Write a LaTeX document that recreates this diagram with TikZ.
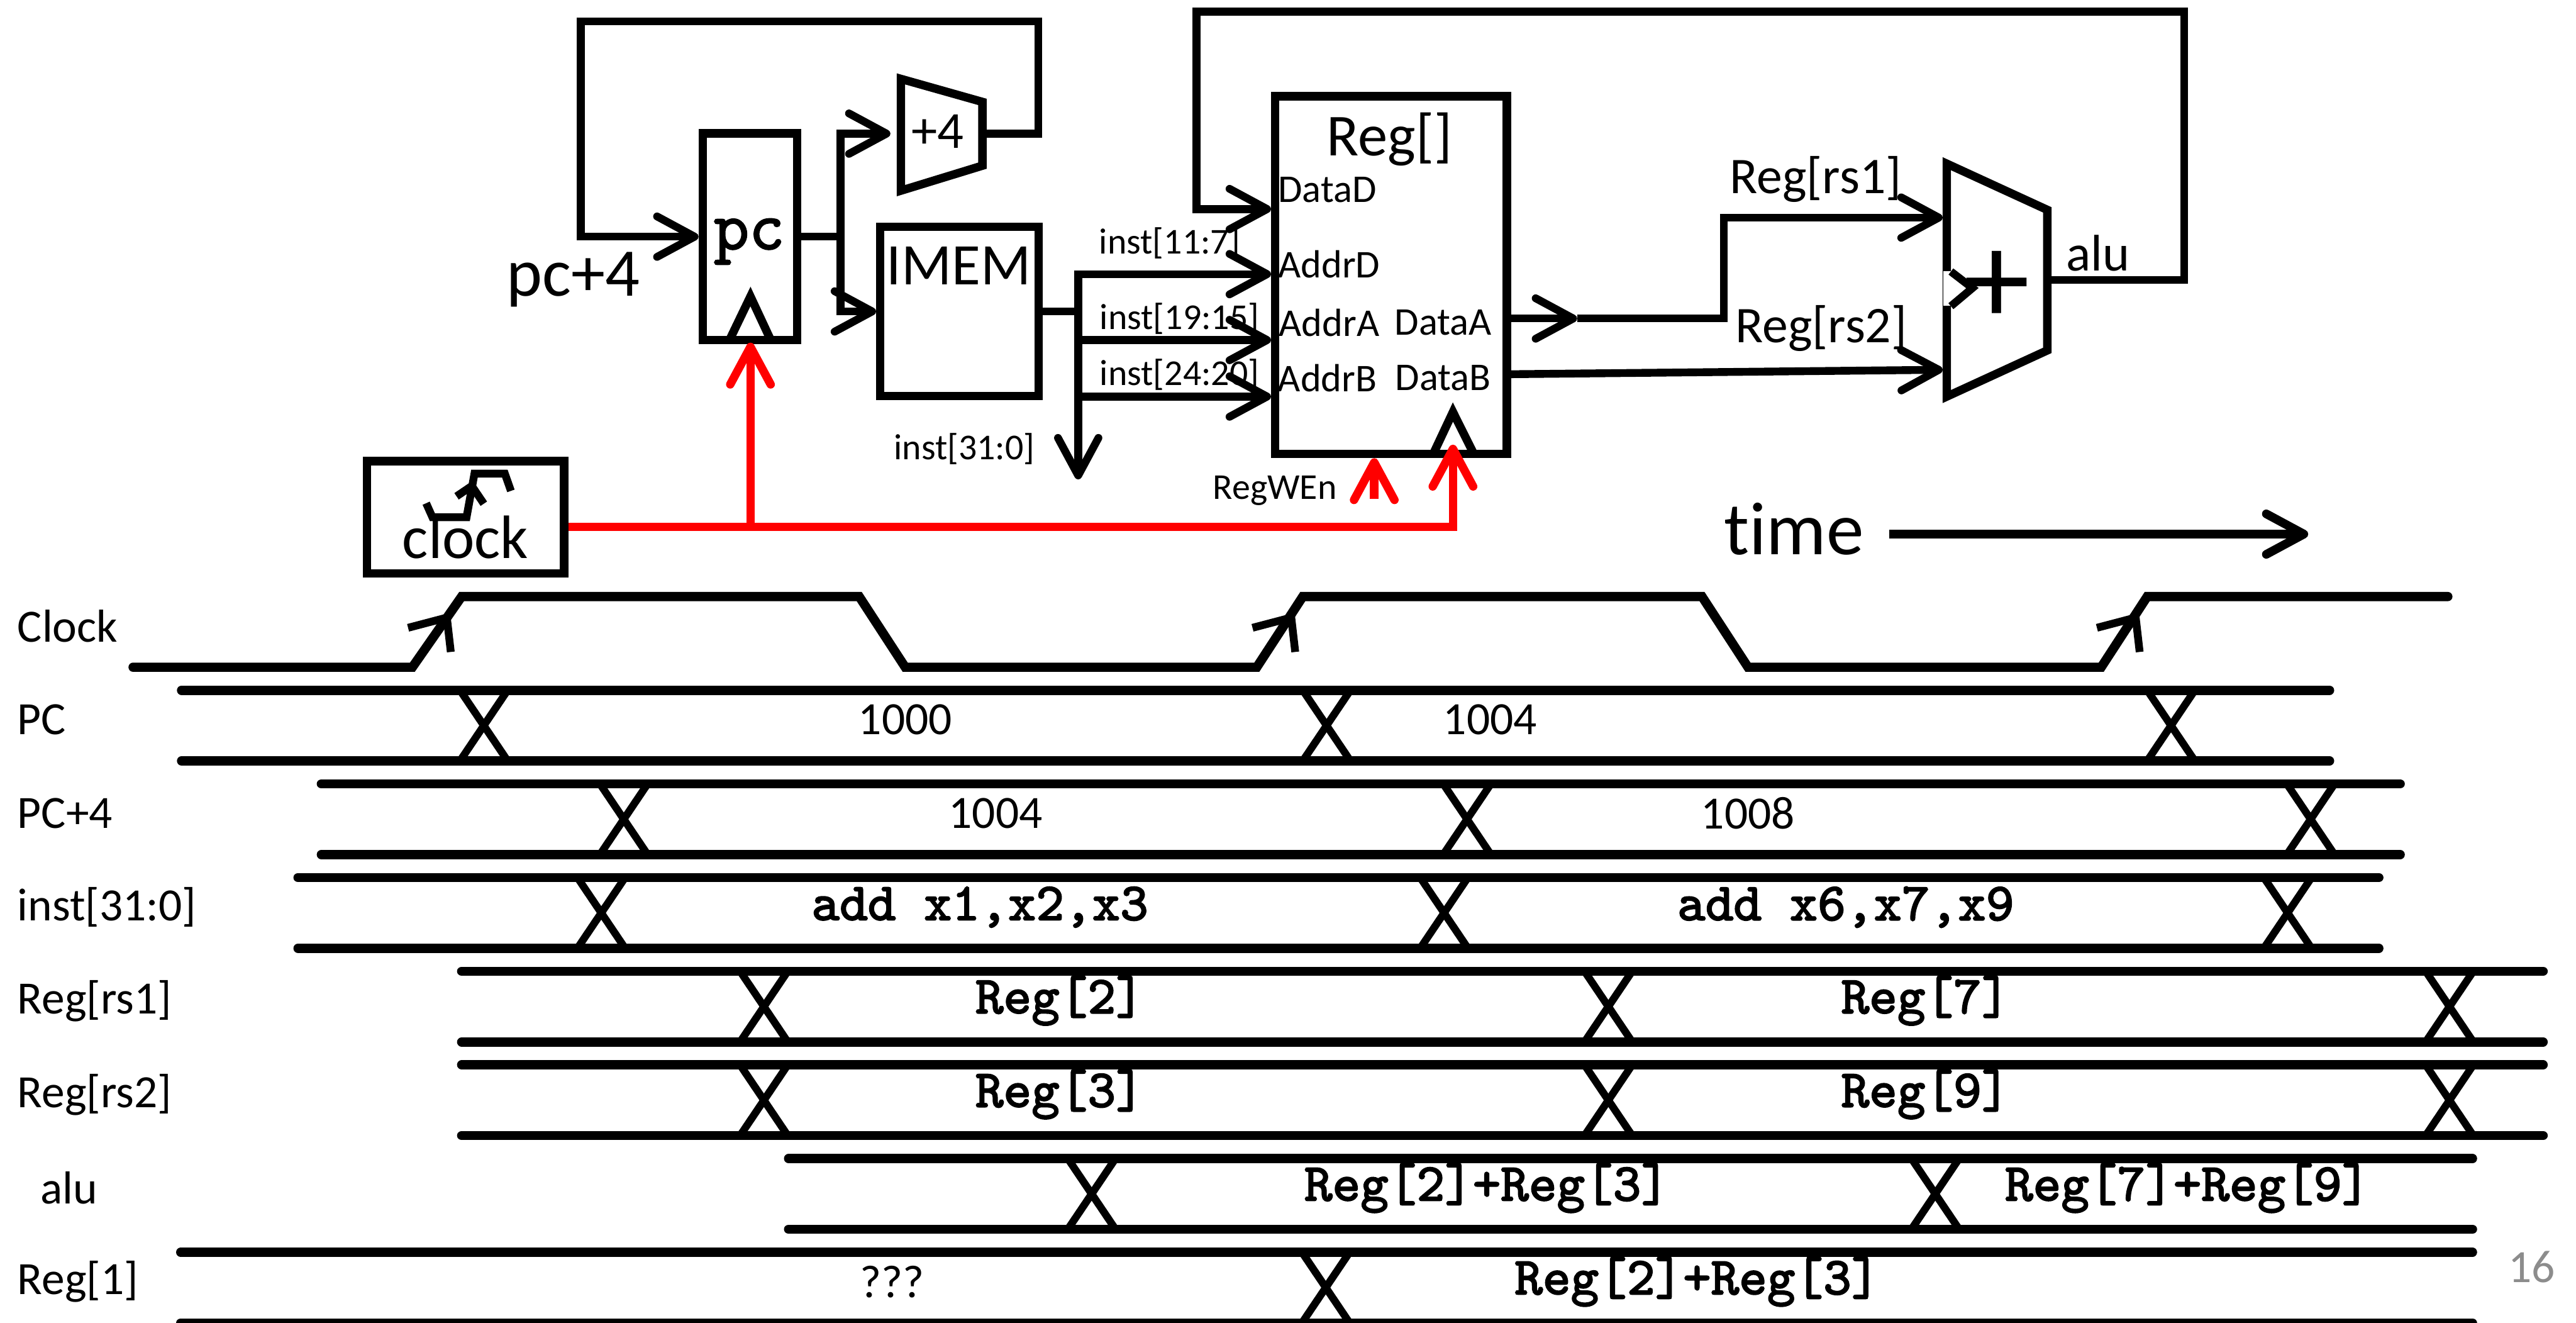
\documentclass[tikz,border=0pt]{standalone}
\usepackage{fontspec}
\setmainfont{Carlito}[Ligatures=NoCommon]
\newfontfamily\codefont{Latin Modern Mono}[FakeBold=2.2]
\usetikzlibrary{positioning, arrows.meta}

\begin{document}
\begin{tikzpicture}[
		x=0.01cm, y=-0.01cm,
		>={Straight Barb[length=6.5pt,width=7pt,round]},
		box/.style={
			draw,
			line width=1.45pt,
			inner sep=0pt
		},
		wire/.style={line width=1.35pt},
		arrow/.style={->, wire},
		clk/.style={->, red, line width=1.45pt},
		wave/.style={line width=1.6pt, line cap=round},
		cross/.style={line width=1.3pt},
		sig/.style={inner sep=0pt, font=\fontsize{8}{8}\selectfont},
		port/.style={inner sep=0pt, font=\fontsize{6.8}{7}\selectfont},
		note/.style={inner sep=0pt, font=\fontsize{6.3}{7}\selectfont},
		bus/.style={inner sep=0pt, font=\fontsize{8.9}{9}\selectfont},
		code/.style={inner sep=0pt, font=\fontsize{9.25}{9}\codefont}
		]
		
		\useasboundingbox (0,0) rectangle (1568,805);
		
		% Blocks
		\node[box, minimum width=0.575cm, minimum height=1.256cm] at (456.5,144) (pc) {};
		\node[box, minimum width=0.963cm, minimum height=1.03cm] at (584,189.5) (imem) {};
		\node[box, minimum width=1.409cm, minimum height=2.174cm] at (846.7,167.3) (regfile) {};
		\node[box, minimum width=1.2cm, minimum height=0.683cm] at (283.3,314.8) (clock) {};
		\node[code, font=\fontsize{11.9}{12}\codefont] at (456,147) (pctext) {pc};
		\node[inner sep=0pt, font=\fontsize{10.2}{10}\selectfont] at (583.6,161.7) (imemtext) {IMEM};
		\node[inner sep=0pt, font=\fontsize{10.3}{10}\selectfont] at (845.8,84.8) (regtext) {Reg[]};
		\node[inner sep=0pt, font=\fontsize{10.6}{10}\selectfont] at (283.3,327) (clocktext) {clock};
		\node[inner sep=0pt, font=\fontsize{9}{9}\selectfont] at (570.8,80) (addtext) {+4};
		\node[inner sep=0pt, font=\fontsize{23}{23}\selectfont] at (1215.3,175) (plustext) {+};
		\node[inner sep=0pt, font=\fontsize{11.8}{12}\selectfont] at (349,170) (pcnext) {pc+4};
		\node[inner sep=0pt, font=\fontsize{13}{13}\selectfont] at (1092,322) (timetext) {time};
		
		% Register ports and wire names
		\node[port] at (808,115.3) (portD) {DataD};
		\node[port] at (809,160.7) (portAD) {AddrD};
		\node[port] at (809,196.3) (portAA) {AddrA};
		\node[port] at (808,230) (portAB) {AddrB};
		\node[port] at (878.5,196.3) (portDA) {DataA};
		\node[port] at (878.5,230) (portDB) {DataB};
		\node[note] at (712,148) (rdname) {inst[11:7]};
		\node[note] at (718,194) (rs1name) {inst[19:15]};
		\node[note] at (718,228) (rs2name) {inst[24:20]};
		\node[note] at (587,273) (instname) {inst[31:0]};
		\node[note] at (776,298.7) (wename) {RegWEn};
		\node[bus] at (1105.2,109) (rs1bus) {Reg[rs1]};
		\node[bus] at (1108.6,200) (rs2bus) {Reg[rs2]};
		\node[bus] at (1277,154) (alubus) {alu};
		
		% Adder and ALU outlines
		\draw[box, line join=miter] (548.4,48) -- (598,62) -- (598,100.8) -- (548.4,116) -- cycle;
		\draw[box] (1185,99.6) -- (1246.2,127.7) -- (1246.2,213.2) -- (1185,241.3) -- cycle;
		\fill[white] (1183,165) rectangle (1188,186);
		\draw[wire] (1187.5,165.2) -- (1200.6,175.3) -- (1187.5,186.3);
		
		% Clock inputs
		\draw[box] (444,207) -- (456.8,180.4) -- (469.2,207);
		\draw[box] (872.5,276) -- (884.4,250.7) -- (897,276);
		\draw[wire] (259.4,306.2) -- (263.2,314.7) -- (284,314.7) -- (288.8,288.2) -- (307.3,288.2) -- (311,298.7);
		\draw[wire] (277.9,302) -- (287.2,295.7) -- (294.5,306.5);
		
		% Named wire ends
		\coordinate (addin) at (542,81.3);
		\coordinate (addout) at (598,81.3);
		\coordinate (split) at (511.7,144);
		\coordinate (fan) at (656.3,189.5);
		\coordinate (aluout) at (1246.2,170.3);
		\coordinate (midA) at (960,193.8);
		\coordinate (rs1in) at (1182.5,132.4);
		\coordinate (rs2in) at (1182.5,225);
		\coordinate (reddrop) at (456.8,320.5);
		\coordinate (timestart) at (1150,325);
		\coordinate (timeend) at (1405,325);
		
		% Arrows
		\draw[arrow] (addout) -- (632,81.3) -- (632,13.1) -- (353.6,13.1) -- (353.6,144) -- (pc.west);
		\draw[arrow] (pc.east) -- (split) |- (addin);
		\draw[arrow] (split) |- (imem.west);
		\draw[wire] (imem.east) -- (fan);
		\draw[arrow] (fan) -- (656.3,291.7);
		\draw[arrow] (fan) |- (regfile.west |- 0,166.8);
		\draw[arrow] (656.3,206.9) -- (regfile.west |- 0,206.9);
		\draw[arrow] (656.3,241.3) -- (regfile.west |- 0,241.3);
		\draw[arrow] (aluout) -- (1329.4,170.3) -- (1329.4,7) -- (728.3,7) -- (728.3,127.2) -- (regfile.west |- 0,127.2);
		\draw[arrow] (regfile.east |- 0,193.8) -- (midA);
		\draw[arrow] (midA) -- (1049.4,193.8) -- (1049.4,132.4) -- (rs1in);
		\draw[arrow] (regfile.east |- 0,227.7) -- (rs2in);
		\draw[arrow, line width=1.5pt] (timestart) -- (timeend);
		
		% Clock wires
		\draw[red, line width=1.45pt] (clock.east |- reddrop) -- (reddrop);
		\draw[clk] (reddrop) -- (456.8,208.5);
		\draw[clk] (reddrop) -- (884.4,320.5) -- (884.4,270.6);
		\draw[clk] (836.5,303.4) -- (836.5,278.8);
		
		% Timing rows
		\draw[wave] (81,406) -- (251,406) -- (281,363) -- (523,363) -- (551,406) -- (765,406) -- (793,363) -- (1036,363) -- (1064,406) -- (1279,406) -- (1307,363) -- (1490,363);
		\foreach \shift in {0,514,1028} {
			\draw[wire] (248.4+\shift,382) -- (272+\shift,375.8) -- (274.4+\shift,396.7);
		}
		\foreach \ytop/\xstart/\xend/\xcross in {
			420/110.5/1418/{294.5,807.5,1321.5},
			477/195.6/1461/{379.7,893,1406.5},
			534/181.4/1448/{366,879,1392.5},
			591/281/1548/{465,979,1491},
			648/281/1548/{465,979,1491},
			705/480/1505/{664.5,1178},
			762/110/1505/{807}} {
			\draw[wave] (\xstart,\ytop) -- (\xend,\ytop);
			\draw[wave] (\xstart,\ytop+43) -- (\xend,\ytop+43);
			\foreach \xc in \xcross {
				\draw[cross] (\xc-14.5,\ytop) -- (\xc+14.5,\ytop+43);
				\draw[cross] (\xc+14.5,\ytop) -- (\xc-14.5,\ytop+43);
			}
		}
		
		% Row names
		\node[sig, anchor=west] at (10,381) (rowclock) {Clock};
		\node[sig, anchor=west] at (10,438) (rowpc) {PC};
		\node[sig, anchor=west] at (10,495) (rowpcnext) {PC+4};
		\node[sig, anchor=west] at (10,552) (rowinst) {inst[31:0]};
		\node[sig, anchor=west] at (10,609) (rowrsa) {Reg[rs1]};
		\node[sig, anchor=west] at (10,666) (rowrsb) {Reg[rs2]};
		\node[sig, anchor=west] at (24,723) (rowalu) {alu};
		\node[sig, anchor=west] at (10,780) (rowrd) {Reg[1]};
		
		% Row values
		\node[sig] at (551,438) (valpca) {1000};
		\node[sig] at (907,438) (valpcb) {1004};
		\node[sig] at (606,495) (valnexta) {1004};
		\node[sig] at (1064,495) (valnextb) {1008};
		\node[code] at (596.5,552) (valinsta) {add x1,x2,x3};
		\node[code] at (1123.5,552) (valinstb) {add x6,x7,x9};
		\node[code] at (645,609) (valrsaa) {Reg[2]};
		\node[code] at (1172,609) (valrsab) {Reg[7]};
		\node[code] at (645,666) (valrsba) {Reg[3]};
		\node[code] at (1172,666) (valrsbb) {Reg[9]};
		\node[code] at (905,723) (valalua) {Reg[2]+Reg[3]};
		\node[code] at (1331.5,723) (valalub) {Reg[7]+Reg[9]};
		\node[sig] at (543,780) (valrda) {???};
		\node[code] at (1033,780) (valrdb) {Reg[2]+Reg[3]};
		\node[sig, text=black!45] at (1541,771) (pagenum) {16};
		
	\end{tikzpicture}
\end{document}
